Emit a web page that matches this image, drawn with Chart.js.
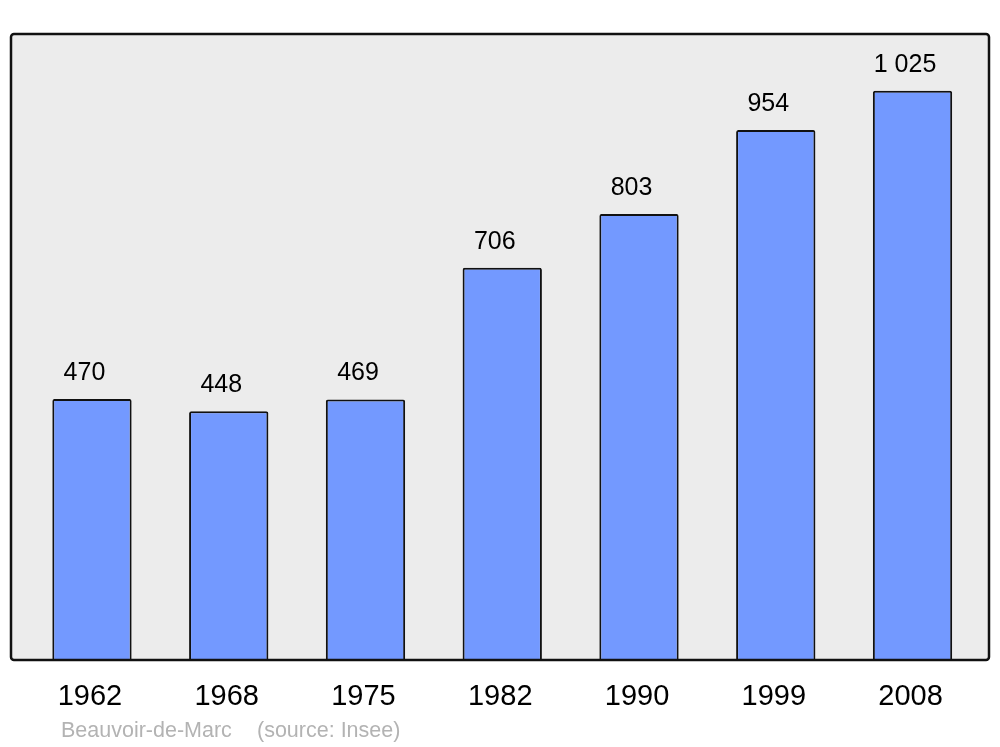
<!DOCTYPE html>
<html>
<head>
<meta charset="utf-8">
<script src="https://cdn.jsdelivr.net/npm/chart.js@4.4.0/dist/chart.umd.min.js"></script>
<style>
  html, body { margin: 0; padding: 0; background: #fff; }
  #wrap { width: 1000px; height: 747px; }
</style>
</head>
<body>
<div id="wrap"><canvas id="chart"></canvas></div>
<script>
// population figures
const years = ['1962', '1968', '1975', '1982', '1990', '1999', '2008'];
const population = [470, 448, 469, 706, 803, 954, 1025];
const town = 'Beauvoir-de-Marc';
const source = '(source: Insee)';

const FONT = '"Liberation Sans", Arial, sans-serif';

function fmt(n) {
  return String(n).replace(/\B(?=(\d{3})+(?!\d))/g, ' ');
}

function roundRect(ctx, x, y, w, h, r) {
  ctx.beginPath();
  ctx.moveTo(x + r, y);
  ctx.lineTo(x + w - r, y);
  ctx.arcTo(x + w, y, x + w, y + r, r);
  ctx.lineTo(x + w, y + h - r);
  ctx.arcTo(x + w, y + h, x + w - r, y + h, r);
  ctx.lineTo(x + r, y + h);
  ctx.arcTo(x, y + h, x, y + h - r, r);
  ctx.lineTo(x, y + r);
  ctx.arcTo(x, y, x + r, y, r);
  ctx.closePath();
}

const frame = { left: 11, top: 34, right: 989, bottom: 660 };

const framePlugin = {
  id: 'frame',
  beforeDatasetsDraw(chart) {
    const ctx = chart.ctx;
    ctx.save();
    roundRect(ctx, frame.left, frame.top, frame.right - frame.left, frame.bottom - frame.top, 3);
    ctx.fillStyle = '#ececec';
    ctx.fill();
    ctx.restore();
  },
  afterDatasetsDraw(chart) {
    const ctx = chart.ctx;
    const x = chart.scales.x, y = chart.scales.y;
    ctx.save();
    roundRect(ctx, frame.left, frame.top, frame.right - frame.left, frame.bottom - frame.top, 3);
    ctx.lineWidth = 2.5;
    ctx.strokeStyle = '#111';
    ctx.stroke();

    // value labels
    ctx.fillStyle = '#000';
    ctx.textAlign = 'center';
    ctx.textBaseline = 'middle';
    ctx.font = '25px ' + FONT;
    population.forEach((v, i) => {
      ctx.fillText(fmt(v), x.getPixelForValue(i) - 7.5, y.getPixelForValue(v) - 26);
    });

    // year labels
    ctx.font = '29px ' + FONT;
    years.forEach((yr, i) => {
      ctx.fillText(yr, x.getPixelForValue(i) - 2, 697);
    });

    // source line
    ctx.fillStyle = '#b3b3b3';
    ctx.textAlign = 'left';
    ctx.font = '21.5px ' + FONT;
    ctx.fillText(town, 61, 731.5);
    ctx.fillText(source, 257, 731.5);
    ctx.restore();
  }
};

new Chart(document.getElementById('chart'), {
  type: 'bar',
  data: {
    labels: years,
    datasets: [{
      data: population,
      backgroundColor: '#7399ff',
      borderColor: '#111',
      borderWidth: 2,
      borderSkipped: 'bottom',
      borderRadius: { topLeft: 2, topRight: 2 },
      barPercentage: 0.58,
      categoryPercentage: 1
    }]
  },
  options: {
    responsive: true,
    maintainAspectRatio: false,
    animation: false,
    layout: { padding: { left: 23.6, right: 19.1, top: 34, bottom: 87 } },
    plugins: {
      legend: { display: false },
      tooltip: { enabled: false }
    },
    scales: {
      x: { display: false },
      y: { display: false, min: 0, max: 1127 }
    }
  },
  plugins: [framePlugin]
});
</script>
</body>
</html>
